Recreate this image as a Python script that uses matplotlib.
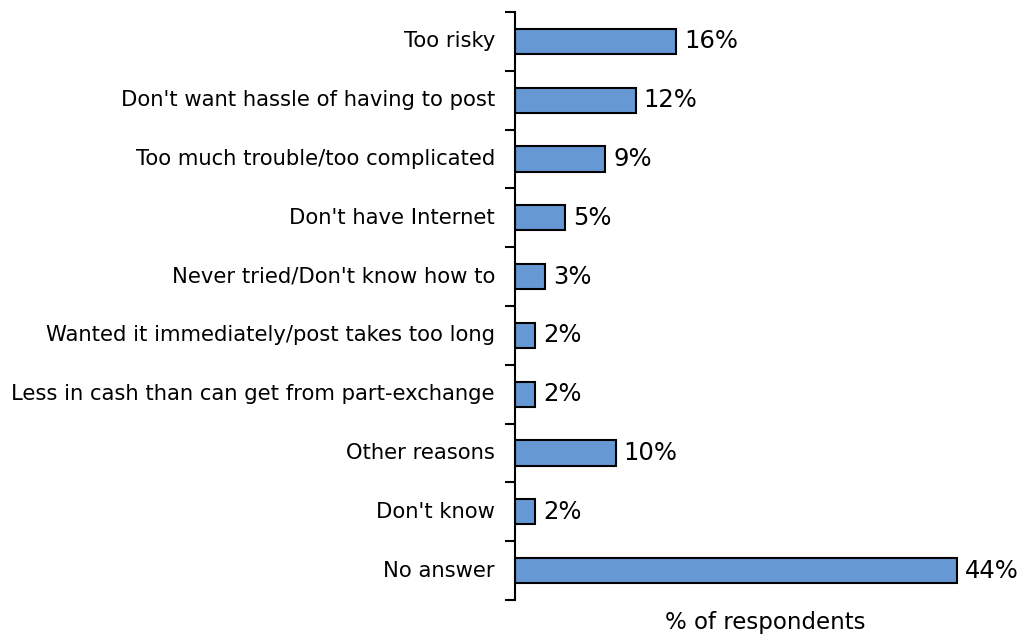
import matplotlib
matplotlib.use("Agg")
import matplotlib.pyplot as plt
import numpy as np

categories = ["Too risky", "Don't want hassle of having to post", "Too much trouble/too complicated",
              "Don't have Internet", "Never tried/Don't know how to",
              "Wanted it immediately/post takes too long", "Less in cash than can get from part-exchange",
              "Other reasons", "Don't know", "No answer"]
values = [16, 12, 9, 5, 3, 2, 2, 10, 2, 44]
value_labels = ["16%", "12%", "9%", "5%", "3%", "2%", "2%", "10%", "2%", "44%"]
x_label = "% of respondents"

plt.rcParams['font.family'] = ['DejaVu Sans']
fig = plt.figure(figsize=(10.24, 6.37), dpi=100)
ax = fig.add_axes([515/1024, 1-600/637, 500/1024, 588/637])

n = len(categories)
y = np.arange(n)
ax.barh(y, values, height=0.43, color='#6699D4', edgecolor='black', linewidth=1.5)
ax.set_ylim(n-0.5, -0.5)
ax.set_xlim(0, 500/10.05)

for yi, v, lab in zip(y, values, value_labels):
    ax.text(v + 0.8, yi, lab, va='center', ha='left', fontsize=17.5)

for s in ['top', 'right', 'bottom']:
    ax.spines[s].set_visible(False)
ax.spines['left'].set_linewidth(1.5)
ax.set_xticks([])
ax.set_yticks(np.arange(n+1) - 0.5)
ax.set_yticklabels([])
ax.tick_params(axis='y', length=7, width=1.5, direction='out')
for yi, c in zip(y, categories):
    ax.text(-2.0, yi, c, va='center', ha='right', fontsize=15.2)

ax.set_xlabel(x_label, fontsize=16.5, labelpad=8)

fig.savefig("out.png", dpi=100)
